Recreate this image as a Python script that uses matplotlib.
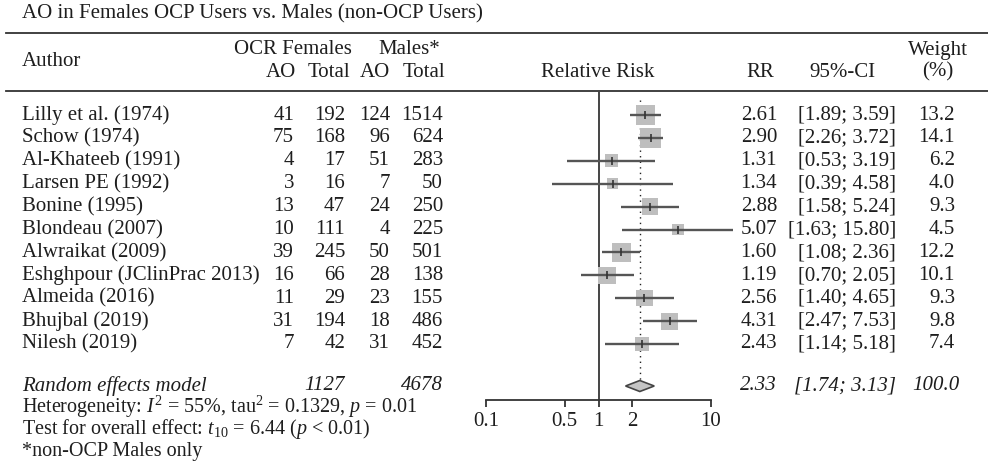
import matplotlib
matplotlib.use('Agg')
import matplotlib.pyplot as plt
import numpy as np
from matplotlib.patches import Polygon

# ---------------- data ----------------
title = "AO in Females OCP Users vs. Males (non-OCP Users)"
authors = ["Lilly et al. (1974)", "Schow (1974)", "Al-Khateeb (1991)", "Larsen PE (1992)",
           "Bonine (1995)", "Blondeau (2007)", "Alwraikat (2009)", "Eshghpour (JClinPrac 2013)",
           "Almeida (2016)", "Bhujbal (2019)", "Nilesh (2019)"]
ocp_ao = [41, 75, 4, 3, 13, 10, 39, 16, 11, 31, 7]
ocp_total = [192, 168, 17, 16, 47, 111, 245, 66, 29, 194, 42]
male_ao = [124, 96, 51, 7, 24, 4, 50, 28, 23, 18, 31]
male_total = [1514, 624, 283, 50, 250, 225, 501, 138, 155, 486, 452]
rr = [2.61, 2.90, 1.31, 1.34, 2.88, 5.07, 1.60, 1.19, 2.56, 4.31, 2.43]
ci_lo = [1.89, 2.26, 0.53, 0.39, 1.58, 1.63, 1.08, 0.70, 1.40, 2.47, 1.14]
ci_hi = [3.59, 3.72, 3.19, 4.58, 5.24, 15.80, 2.36, 2.05, 4.65, 7.53, 5.18]
weight = [13.2, 14.1, 6.2, 4.0, 9.3, 4.5, 12.2, 10.1, 9.3, 9.8, 7.4]
pooled_rr = 2.33
pooled_lo = 1.74
pooled_hi = 3.13
pooled_weight = 100.0
pooled_ocp_total = 1127
pooled_male_total = 4678
x_ticks = [0.1, 0.5, 1, 2, 10]
x_tick_labels = ["0.1", "0.5", "1", "2", "10"]
heterogeneity = r"Heterogeneity: $I^2$ = 55%, tau$^2$ = 0.1329, $p$ = 0.01"
overall = r"Test for overall effect: $t_{10}$ = 6.44 ($p$ < 0.01)"
footnote = "*non-OCP Males only"

# ---------------- style ----------------
FONT = "Liberation Serif"
plt.rcParams['font.family'] = [FONT, 'DejaVu Serif']
plt.rcParams['mathtext.fontset'] = 'custom'
plt.rcParams['mathtext.rm'] = FONT
plt.rcParams['mathtext.it'] = FONT + ':italic'
FS = 15
FS_FOOT = 14.5
TXT = '#1e1e1e'
W, H = 988, 474

fig = plt.figure(figsize=(W / 100, H / 100), dpi=100)
ov = fig.add_axes([0, 0, 1, 1])
ov.set_xlim(0, W)
ov.set_ylim(H, 0)
ov.axis('off')

def T(x, y, s, ha='left', style='normal', fs=FS, va='center'):
    ov.text(x, y, s, ha=ha, va=va, fontsize=fs, color=TXT, fontstyle=style)

# title and rules
T(22, 14, title)
ov.plot([6, 988], [32.5, 32.5], color='#333333', lw=1.3)
ov.plot([6, 988], [90.5, 90.5], color='#333333', lw=1.3)

# headers
T(22, 61, "Author")
T(352, 49, "OCR Females", ha='right')
T(440, 49, "Males*", ha='right')
col_ocp_ao, col_ocp_tot, col_m_ao, col_m_tot = 294, 345, 390, 443
col_rr, col_ci, col_w = 777, 896, 955
T(col_ocp_ao + 2, 72, "AO", ha='right')
T(col_ocp_tot + 5, 72, "Total", ha='right')
T(col_m_ao, 72, "AO", ha='right')
T(col_m_tot + 2, 72, "Total", ha='right')
T(598, 72, "Relative Risk", ha='center')
T(760, 72, "RR", ha='center')
T(842, 72, "95%-CI", ha='center')
T(938, 50, "Weight", ha='center')
T(938, 72, "(%)", ha='center')

row0, dy = 115, 22.9
rows_y = [row0 + i * dy for i in range(len(authors))]
for i, y in enumerate(rows_y):
    T(22, y, authors[i])
    T(col_ocp_ao, y, f"{ocp_ao[i]}", ha='right')
    T(col_ocp_tot, y, f"{ocp_total[i]}", ha='right')
    T(col_m_ao, y, f"{male_ao[i]}", ha='right')
    T(col_m_tot, y, f"{male_total[i]}", ha='right')
    T(col_rr, y, f"{rr[i]:.2f}", ha='right')
    T(col_ci, y, f"[{ci_lo[i]:.2f}; {ci_hi[i]:.2f}]", ha='right')
    T(col_w, y, f"{weight[i]:.1f}", ha='right')

py = 386
T(22, py, "Random effects model", style='italic')
T(col_ocp_tot, py, f"{pooled_ocp_total}", ha='right', style='italic')
T(col_m_tot, py, f"{pooled_male_total}", ha='right', style='italic')
T(col_rr, py, f"{pooled_rr:.2f}", ha='right', style='italic')
T(col_ci, py, f"[{pooled_lo:.2f}; {pooled_hi:.2f}]", ha='right', style='italic')
T(col_w + 4, py, f"{pooled_weight:.1f}", ha='right', style='italic')
T(22, 413, heterogeneity, fs=FS_FOOT, va='baseline')
T(22, 434, overall, fs=FS_FOOT, va='baseline')
T(22, 456, footnote, fs=FS_FOOT, va='baseline')

# ---------------- forest panel ----------------
x0, x1 = 486, 711
ytop, ybot = 92, 400
ax = fig.add_axes([x0 / W, 1 - ybot / H, (x1 - x0) / W, (ybot - ytop) / H])
ax.patch.set_alpha(0)
ax.set_xscale('log')
ax.set_xlim(0.1, 10)
ax.set_ylim(ybot, ytop)
for s in ['top', 'left', 'right']:
    ax.spines[s].set_visible(False)
ax.spines['bottom'].set_color('#333333')
ax.spines['bottom'].set_linewidth(1.3)
ax.set_yticks([])
ax.set_xticks(x_ticks)
ax.set_xticklabels(x_tick_labels)
ax.minorticks_off()
ax.tick_params(axis='x', length=5, width=1.3, color='#333333', pad=4,
               labelsize=FS, labelcolor=TXT)

# reference line at 1
ax.plot([1, 1], [ytop, ybot], color='#444444', lw=1.4, clip_on=False)
# pooled dotted line
ax.plot([pooled_rr, pooled_rr], [100, py - 6], color='#222222', lw=1.0,
        linestyle=(0, (1, 3)), clip_on=False)

sides = [19.5 * np.sqrt(w / 13.2) for w in weight]
ax.scatter(rr, rows_y, s=[(sd * 0.72) ** 2 for sd in sides], marker='s',
           color='#bebebe', edgecolor='none', zorder=3, clip_on=False)
ax.hlines(rows_y, ci_lo, ci_hi, color='#555555', lw=1.7, zorder=4, clip_on=False)
ax.scatter(rr, rows_y, s=30, marker='|', color='#333333', linewidths=1.2,
           zorder=5, clip_on=False)

diamond = Polygon([[pooled_lo, py], [pooled_rr, py - 5.5], [pooled_hi, py],
                   [pooled_rr, py + 5.5]], closed=True, facecolor='#c4c4c4',
                  edgecolor='#444444', lw=1.2, zorder=4, clip_on=False)
ax.add_patch(diamond)

fig.savefig('out.png', dpi=100)
